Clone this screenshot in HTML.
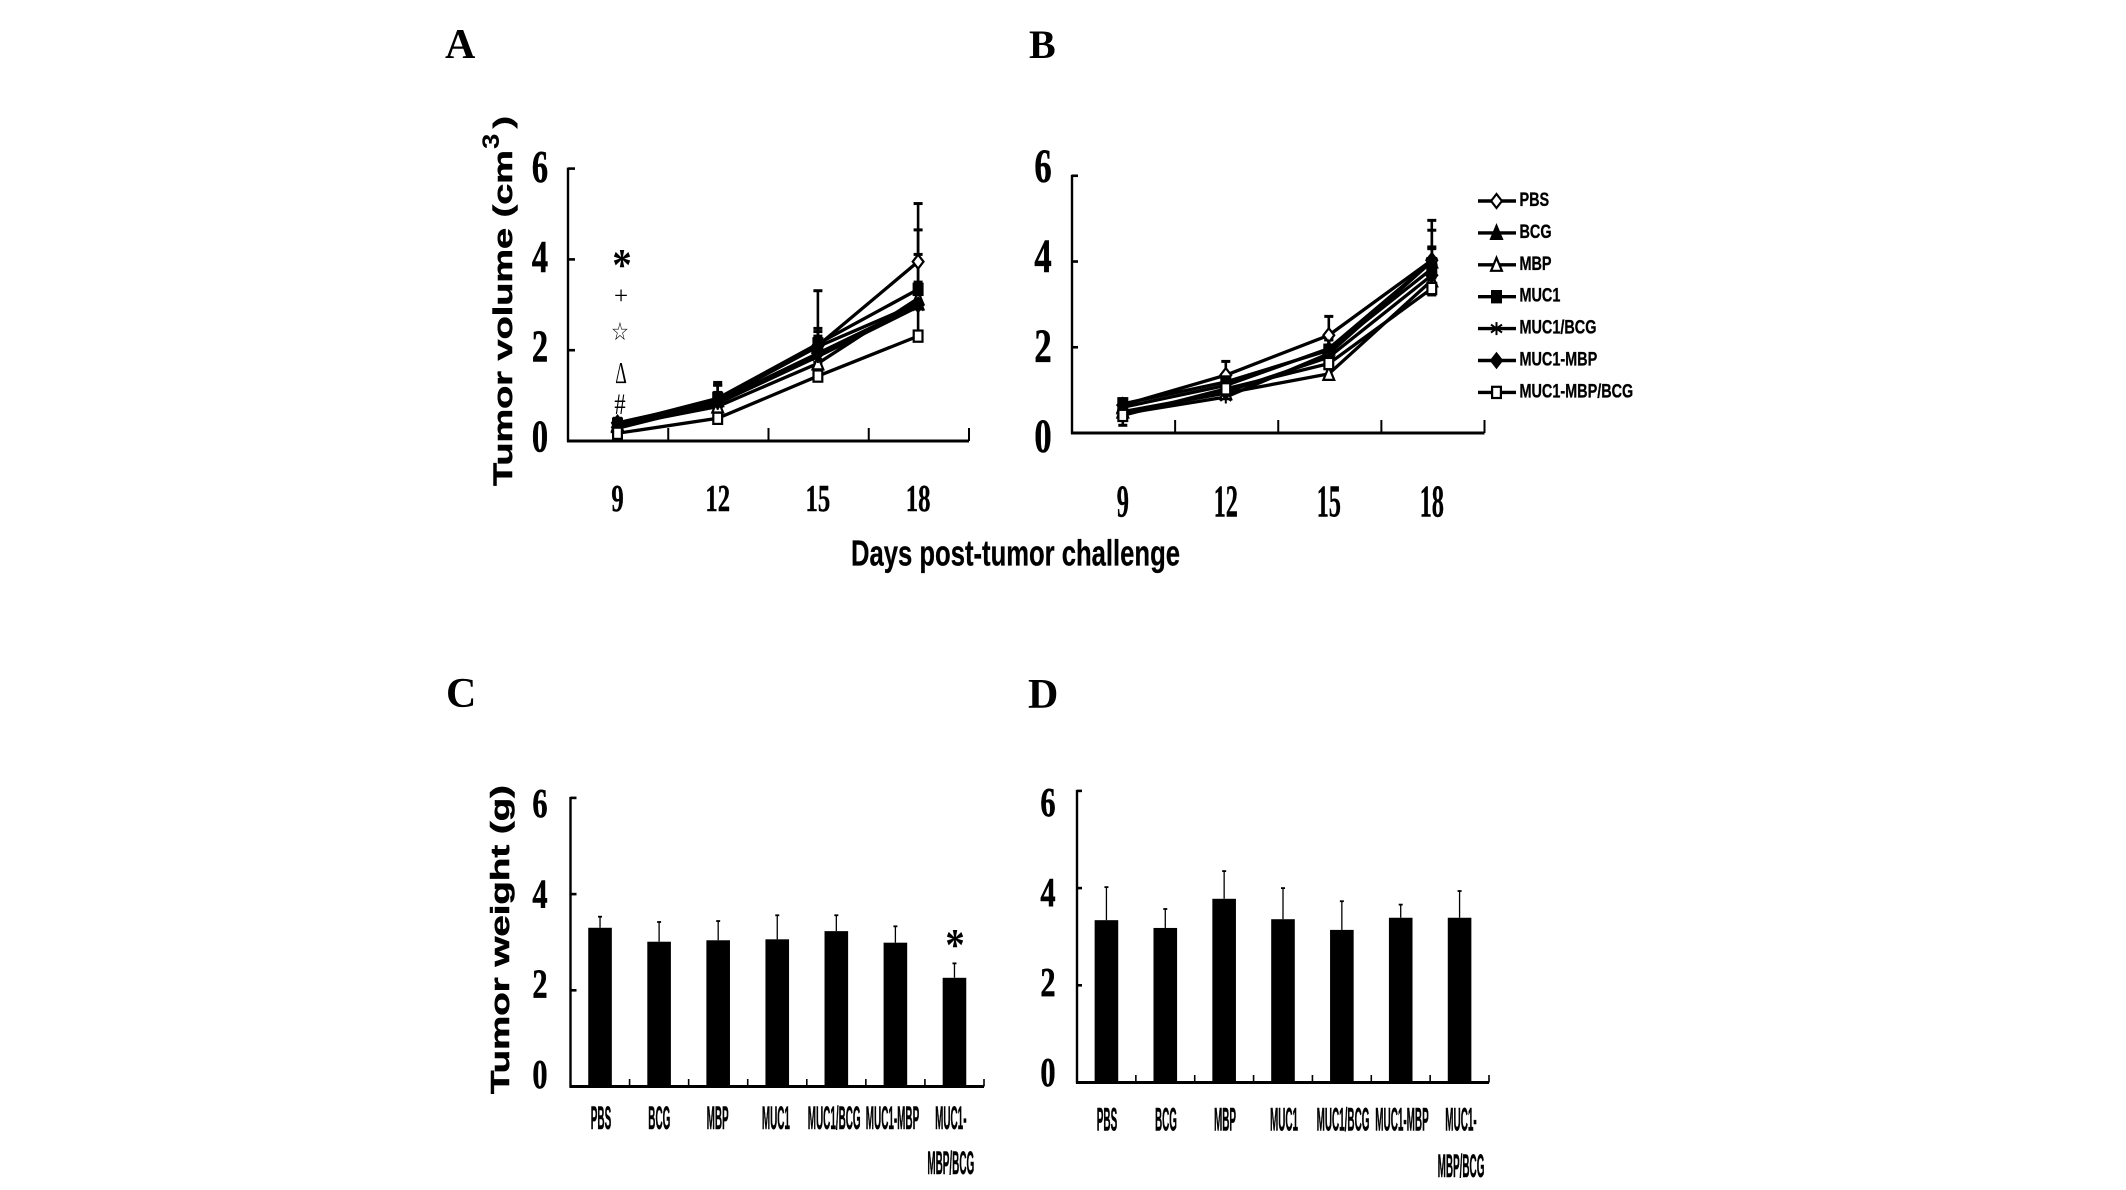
<!DOCTYPE html>
<html>
<head>
<meta charset="utf-8">
<title>Tumor volume and weight charts</title>
<style>
html,body{margin:0;padding:0;background:#fff;width:2126px;height:1190px;overflow:hidden}
svg{display:block}
text{fill:#000}
</style>
</head>
<body>
<svg id="fig" xmlns="http://www.w3.org/2000/svg" width="2126" height="1190" viewBox="0 0 2126 1190">
  <rect width="2126" height="1190" fill="#fff"/>
</svg>
<script>
/* ---------- shared labels ---------- */
const days = [9, 12, 15, 18];
const yTickValues = [0, 2, 4, 6];
const seriesNames = ['PBS', 'BCG', 'MBP', 'MUC1', 'MUC1/BCG', 'MUC1-MBP', 'MUC1-MBP/BCG'];
const barLabels = ['PBS', 'BCG', 'MBP', 'MUC1', 'MUC1/BCG', 'MUC1-MBP', 'MUC1-'];
const barLabelSecondLine = 'MBP/BCG';

/* ---------- panel A: tumor volume ---------- */
const volA_PBS = [0.40, 0.89, 2.10, 3.95];
const volA_BCG = [0.36, 0.90, 2.08, 3.03];
const volA_MBP = [0.33, 0.76, 1.71, 3.14];
const volA_MUC1 = [0.37, 0.94, 2.14, 3.34];
const volA_MUC1BCG = [0.28, 0.83, 1.86, 2.96];
const volA_MUC1MBP = [0.30, 0.87, 1.93, 3.00];
const volA_MMB = [0.17, 0.50, 1.43, 2.31];
const errA_PBS = [0.10, 0.40, 1.21, 1.28];
const errA_BCG = [0.08, 0.33, 0.33, 0.47];
const errA_MBP = [0.08, 0.20, 0.60, 0.97];
const errA_MUC1 = [0.08, 0.29, 0.34, 1.31];
const errA_MUC1BCG = [0.06, 0.20, 0.40, 0.30];
const errA_MUC1MBP = [0.06, 0.20, 0.30, 0.30];
const errA_MMB = [0.05, 0.10, 0.30, 0.75];

/* ---------- panel B: tumor volume ---------- */
const volB_PBS = [0.65, 1.35, 2.28, 4.03];
const volB_BCG = [0.60, 1.11, 1.97, 4.00];
const volB_MBP = [0.50, 0.93, 1.38, 3.56];
const volB_MUC1 = [0.68, 1.19, 1.93, 3.83];
const volB_MUC1BCG = [0.45, 0.84, 1.85, 4.00];
const volB_MUC1MBP = [0.48, 0.96, 1.77, 3.68];
const volB_MMB = [0.41, 1.03, 1.62, 3.37];
const errB_PBS = [0.12, 0.32, 0.44, 0.93];
const errB_BCG = [0.12, 0.15, 0.20, 0.34];
const errB_MBP = [0.10, 0.20, 0.30, 0.50];
const errB_MUC1 = [0.12, 0.18, 0.25, 0.90];
const errB_MUC1BCG = [0.10, 0.20, 0.20, 0.30];
const errB_MUC1MBP = [0.10, 0.15, 0.20, 0.30];
const errB_MMB = [0.10, 0.15, 0.15, 0.25];
const errDownB_MMB = [0.23, 0.12, 0.12, 0.15];

/* ---------- panel C: tumor weight ---------- */
const weightC = [3.30, 3.01, 3.04, 3.06, 3.23, 2.99, 2.26];
const errC = [0.23, 0.41, 0.40, 0.50, 0.33, 0.34, 0.30];

/* ---------- panel D: tumor weight ---------- */
const weightD = [3.34, 3.18, 3.78, 3.36, 3.14, 3.39, 3.39];
const errD = [0.68, 0.39, 0.57, 0.64, 0.59, 0.27, 0.55];

const seriesA = [volA_PBS, volA_BCG, volA_MBP, volA_MUC1, volA_MUC1BCG, volA_MUC1MBP, volA_MMB];
const errsA = [errA_PBS, errA_BCG, errA_MBP, errA_MUC1, errA_MUC1BCG, errA_MUC1MBP, errA_MMB];
const seriesB = [volB_PBS, volB_BCG, volB_MBP, volB_MUC1, volB_MUC1BCG, volB_MUC1MBP, volB_MMB];
const errsB = [errB_PBS, errB_BCG, errB_MBP, errB_MUC1, errB_MUC1BCG, errB_MUC1MBP, errB_MMB];

const SVGNS = 'http://www.w3.org/2000/svg';
const root = document.getElementById('fig');
const SERIF = '"Liberation Serif", serif';
const SANS = '"Liberation Sans", sans-serif';
const markerKinds = ['open-diamond', 'filled-triangle', 'open-triangle', 'filled-square', 'asterisk', 'filled-diamond', 'open-square'];

function make(tag, parent, name, attrs) {
  const el = document.createElementNS(SVGNS, tag);
  
  
  for (const k in attrs) el.setAttribute(k, attrs[k]);
  parent.appendChild(el);
  return el;
}
function line(parent, name, x1, y1, x2, y2, w) {
  return make('line', parent, name, {x1: x1, y1: y1, x2: x2, y2: y2, stroke: '#000', 'stroke-width': w});
}
function text(parent, name, str, x, y, o) {
  const sx = o.sx || 1, sy = o.sy || 1;
  const el = make('text', parent, name, {
    transform: 'translate(' + x + ' ' + y + ')' + (o.rotate ? ' rotate(' + o.rotate + ')' : '') + ' scale(' + sx + ' ' + sy + ')',
    'font-family': o.family || SERIF,
    'font-size': o.size,
    'font-weight': o.weight || 'bold',
    'text-anchor': o.anchor || 'middle'
  });
  if (o.heavy) {
    el.setAttribute('stroke', '#000');
    el.setAttribute('stroke-width', o.heavy);
  }
  if (o.length) {
    el.setAttribute('textLength', o.length);
    el.setAttribute('lengthAdjust', 'spacingAndGlyphs');
  }
  el.textContent = str;
  return el;
}
function marker(parent, name, kind, x, y) {
  const w = 5.4, h = 7;
  const outline = {stroke: '#000', 'stroke-width': 2.2};
  if (kind === 'open-diamond' || kind === 'filled-diamond') {
    make('polygon', parent, name, Object.assign({
      points: [x, y - h, x + w, y, x, y + h, x - w, y].join(' '),
      fill: kind === 'open-diamond' ? '#fff' : '#000'
    }, outline));
  } else if (kind === 'open-triangle' || kind === 'filled-triangle') {
    make('polygon', parent, name, Object.assign({
      points: [x, y - h, x + w, y + h - 1, x - w, y + h - 1].join(' '),
      fill: kind === 'open-triangle' ? '#fff' : '#000'
    }, outline));
  } else if (kind === 'open-square' || kind === 'filled-square') {
    make('rect', parent, name, Object.assign({
      x: x - 4.4, y: y - 5.6, width: 8.8, height: 11.2,
      fill: kind === 'open-square' ? '#fff' : '#000'
    }, outline));
  } else {
    const g = make('g', parent, name, {});
    line(g, 'asterisk-stroke-vertical', x, y - 6.5, x, y + 6.5, 2);
    line(g, 'asterisk-stroke-rising', x - 5.5, y + 4, x + 5.5, y - 4, 2);
    line(g, 'asterisk-stroke-falling', x - 5.5, y - 4, x + 5.5, y + 4, 2);
  }
}
function yAxis(parent, p) {
  const yOf = v => p.y0 - v * p.unit;
  line(parent, 'y-axis', p.x0, yOf(6) - 1, p.x0, p.y0 + 1, 2.4);
  yTickValues.forEach(v => {
    if (v > 0) line(parent, 'y-tick', p.x0, yOf(v), p.x0 + p.yTick, yOf(v), 2.6);
    const labelY = p.labelY0 + (p.labelY6 - p.labelY0) * v / 6;
    text(parent, 'y-tick-label', String(v), p.labelX, labelY, {size: p.ySize, sx: p.ySx, heavy: 0.6});
  });
  return yOf;
}
function xAxisLine(parent, p) {
  line(parent, 'x-axis', p.x0 - 1, p.y0, p.x1, p.y0, 3);
}

/* ---------- line panels ---------- */
function linePanel(name, p, series, errs, downs) {
  const g = make('g', root, name, {});
  const yOf = yAxis(g, p);
  xAxisLine(g, p);
  for (let i = 1; i <= 4; i++) {
    const tx = p.x0 + (p.x1 - p.x0) * p.tickFrac[i - 1];
    line(g, 'x-tick', tx, p.y0, tx, p.y0 - p.xTick, 2);
  }
  const xOf = d => p.dayX0 + (d - 9) / 3 * p.dayStep;
  days.forEach(d => {
    text(g, 'x-tick-label', String(d), p.dayLabelX0 + (d - 9) / 3 * p.dayLabelStep, p.xLabelY, {size: p.xSize, sx: p.xSx, heavy: 0.4});
  });
  series.forEach((vals, s) => {
    const sg = make('g', g, 'series-' + seriesNames[s].toLowerCase().replace('/', '-'), {});
    vals.forEach((v, i) => {
      const ex = xOf(days[i]);
      const top = yOf(v + errs[s][i]);
      line(sg, 'error-bar', ex, yOf(v), ex, top, 2.6);
      line(sg, 'error-cap', ex - 4.5, top, ex + 4.5, top, 3);
      if (downs && downs[s]) {
        const bot = yOf(v - downs[s][i]);
        line(sg, 'error-bar', ex, yOf(v), ex, bot, 2.6);
        line(sg, 'error-cap', ex - 4.5, bot, ex + 4.5, bot, 3);
      }
    });
    make('polyline', sg, 'series-line', {
      points: vals.map((v, i) => xOf(days[i]) + ',' + yOf(v)).join(' '),
      fill: 'none', stroke: '#000', 'stroke-width': 3.3
    });
  });
  series.forEach((vals, s) => {
    vals.forEach((v, i) => {
      marker(g, 'point-marker', markerKinds[s], xOf(days[i]), yOf(v));
    });
  });
  return g;
}

const panelA = {x0: 568, x1: 969, y0: 441, unit: 45.4, yTick: 7, xTick: 13,
  tickFrac: [0.25, 0.5, 0.75, 1], dayX0: 617.5, dayStep: 100.2,
  dayLabelX0: 617.5, dayLabelStep: 100.2, xLabelY: 511, xSize: 38, xSx: 0.65,
  labelX: 540, labelY0: 451.5, labelY6: 182, ySize: 45, ySx: 0.72};
const panelB = {x0: 1072, x1: 1484.5, y0: 433, unit: 42.87, yTick: 6, xTick: 13,
  tickFrac: [0.25, 0.5, 0.75, 1], dayX0: 1122.8, dayStep: 103,
  dayLabelX0: 1122.8, dayLabelStep: 103, xLabelY: 516.5, xSize: 46, xSx: 0.53,
  labelX: 1043, labelY0: 452, labelY6: 182, ySize: 48, ySx: 0.72};

linePanel('panel-a-chart', panelA, seriesA, errsA, null);
linePanel('panel-b-chart', panelB, seriesB, errsB, [null, null, null, null, null, null, errDownB_MMB]);

/* ---------- bar panels ---------- */
function barPanel(name, p, vals, errs) {
  const g = make('g', root, name, {});
  const yOf = yAxis(g, p);
  xAxisLine(g, p);
  const band = (p.x1 - p.x0) / vals.length;
  vals.forEach((v, i) => {
    const cx = p.x0 + band * (i + 0.5);
    const tx = p.x0 + band * (i + 1);
    line(g, 'x-tick', tx, p.y0, tx, p.y0 - p.xTick, 1.6);
    const top = yOf(v + errs[i]);
    line(g, 'error-bar', cx, yOf(v), cx, top, 1.3);
    line(g, 'error-cap', cx - 2, top, cx + 2, top, 1.8);
    make('rect', g, 'bar-' + barLabels[i].toLowerCase().replace('/', '-').replace(/-$/, '-mbp-bcg'), {
      x: cx - 11.8, y: yOf(v), width: 23.6, height: p.y0 - yOf(v), fill: '#000'
    });
  });
  barLabels.forEach((lab, i) => {
    text(g, 'x-category-label', lab, p.labX0 + i * p.labStep, p.labY, {family: SANS, size: 32, sx: 0.31, heavy: 0.5});
  });
  text(g, 'x-category-label-second-line', barLabelSecondLine, p.labX0 + 6 * p.labStep, p.labY2, {family: SANS, size: 32, sx: 0.31, heavy: 0.5});
  return g;
}
const panelC = {x0: 570.5, x1: 984, y0: 1086.5, unit: 48.1, yTick: 6, xTick: 7.5,
  labelX: 540, labelY0: 1088, labelY6: 817, ySize: 41, ySx: 0.74,
  labX0: 601, labStep: 58.3, labY: 1129, labY2: 1174};
const panelD = {x0: 1077, x1: 1489, y0: 1082.5, unit: 48.6, yTick: 5, xTick: 7.5,
  labelX: 1048, labelY0: 1086, labelY6: 816, ySize: 41, ySx: 0.74,
  labX0: 1107, labStep: 59, labY: 1130.5, labY2: 1177};
const gC = barPanel('panel-c-chart', panelC, weightC, errC);
barPanel('panel-d-chart', panelD, weightD, errD);

/* ---------- panel letters ---------- */
text(root, 'panel-label-a', 'A', 445, 58, {size: 42, anchor: 'start'});
text(root, 'panel-label-b', 'B', 1029, 58, {size: 40, anchor: 'start'});
text(root, 'panel-label-c', 'C', 446, 707, {size: 42, anchor: 'start'});
text(root, 'panel-label-d', 'D', 1028, 708, {size: 42, anchor: 'start'});

/* ---------- axis titles ---------- */
text(root, 'y-axis-title-volume', 'Tumor volume (cm', 512, 486, {family: SANS, size: 27, rotate: -90, anchor: 'start', length: 336, heavy: 0.5});
text(root, 'y-axis-title-volume-exponent', '3', 499, 149, {family: SANS, size: 24, rotate: -90, anchor: 'start', sx: 1.15});
text(root, 'y-axis-title-volume-close', ')', 512, 129, {family: SANS, size: 27, rotate: -90, anchor: 'start', sx: 1.5});
text(root, 'y-axis-title-weight', 'Tumor weight (g)', 509, 1094, {family: SANS, size: 25.5, rotate: -90, anchor: 'start', length: 309, heavy: 0.5});
text(root, 'x-axis-title', 'Days post-tumor challenge', 851, 565.5, {family: SANS, size: 36, anchor: 'start', length: 329, heavy: 0.3});

/* ---------- significance symbols, panel A ---------- */
text(root, 'significance-asterisk', '*', 622, 280, {size: 46, sx: 0.85});
text(root, 'significance-plus', '+', 621, 304, {size: 25, weight: 'normal'});
text(root, 'significance-star', '\u2606', 620, 340, {family: '"DejaVu Sans", sans-serif', size: 20, weight: 'normal', sy: 1.25});
text(root, 'significance-delta', '\u0394', 621, 383, {size: 31, weight: 'normal', sx: 0.58});
text(root, 'significance-hash', '#', 620, 414, {size: 30, weight: 'normal', sx: 0.75});
text(gC, 'significance-asterisk-c', '*', 955, 960, {size: 46, sx: 0.85});

/* ---------- legend ---------- */
const legend = make('g', root, 'legend', {});
seriesNames.forEach((nm, i) => {
  const ly = 201 + i * 31.9;
  const entry = make('g', legend, 'legend-entry', {});
  line(entry, 'legend-line', 1478, ly, 1516, ly, 3.4);
  marker(entry, 'legend-marker', markerKinds[i], 1496.5, ly);
  text(entry, 'legend-label', nm, 1519.5, ly + 5, {family: SANS, size: 19.5, sx: 0.74, anchor: 'start', heavy: 0.3});
});
</script>
</body>
</html>
